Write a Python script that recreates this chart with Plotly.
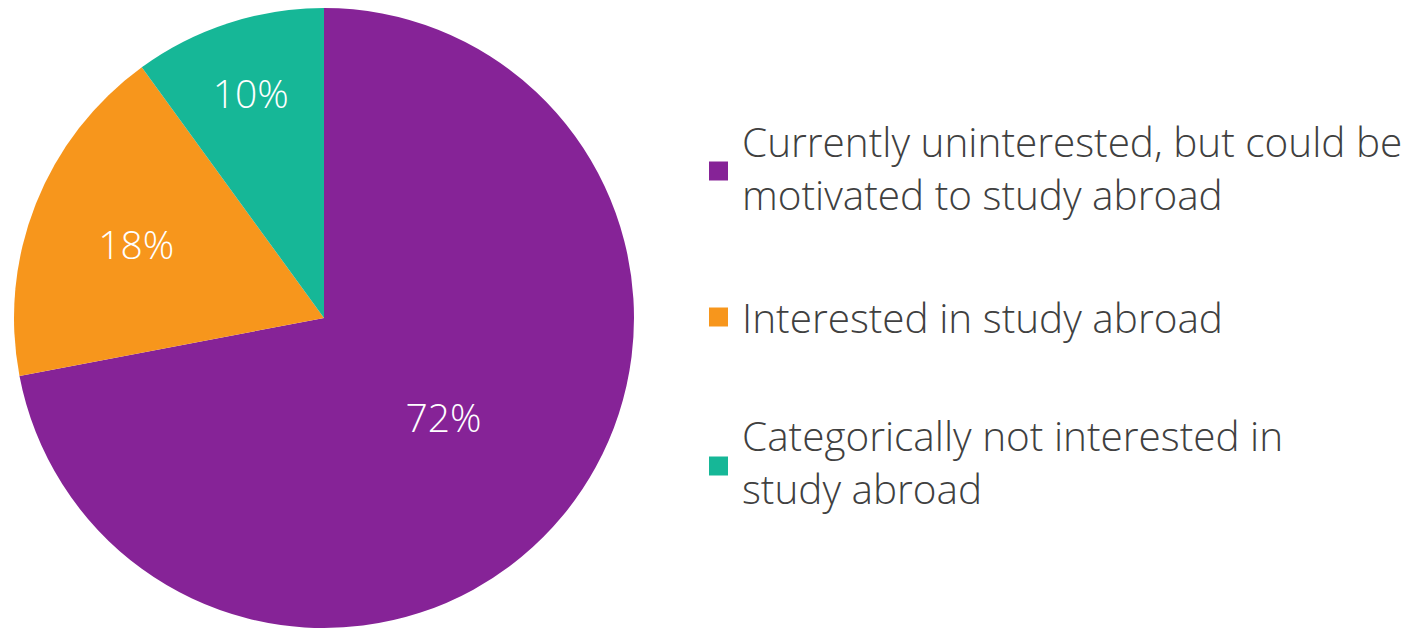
import plotly.graph_objects as go

labels = ["Currently uninterested, but could be<br>motivated to study abroad",
          "Interested in study abroad",
          "Categorically not interested in<br>study abroad"]
values = [72, 18, 10]
colors = ["#862397", "#F7961C", "#16B797"]

W, H = 1414, 628
OFF = 8  # page body margin of the html file


def px(x):  # page x pixel -> paper x
    return (x - OFF) / W


def py(y):  # page y pixel (from top) -> paper y
    return 1 - (y - OFF) / H


# legend geometry (page pixels)
square_y = [171, 317, 466]
text_y = [168, 317.5, 462]
TEXT_SIZE = 40.5

fig = go.Figure()
fig.add_trace(go.Pie(
    labels=labels, values=values, sort=False, direction="clockwise", rotation=0,
    marker=dict(colors=colors, line=dict(width=0)),
    texttemplate="%{percent:.0%}", textposition="inside", insidetextorientation="horizontal",
    textfont=dict(family="Open Sans", size=39, color="white", weight=300),
    domain=dict(x=[px(14), px(634)], y=[py(628), py(8)]),
    showlegend=False, hoverinfo="label+percent",
))

for lab, col, sy, ty in zip(labels, colors, square_y, text_y):
    fig.add_shape(type="rect", xref="paper", yref="paper",
                  x0=px(709), x1=px(728), y0=py(sy + 9.5), y1=py(sy - 9.5),
                  fillcolor=col, line=dict(width=0))
    fig.add_annotation(xref="paper", yref="paper", x=px(740), y=py(ty),
                       xanchor="left", yanchor="middle", align="left",
                       text=lab, showarrow=False,
                       font=dict(family="Open Sans", size=TEXT_SIZE, color="#404040", weight=300))

fig.update_layout(width=W, height=H, margin=dict(l=0, r=0, t=0, b=0),
                  paper_bgcolor="white", plot_bgcolor="white")
fig.write_html("out.html")
